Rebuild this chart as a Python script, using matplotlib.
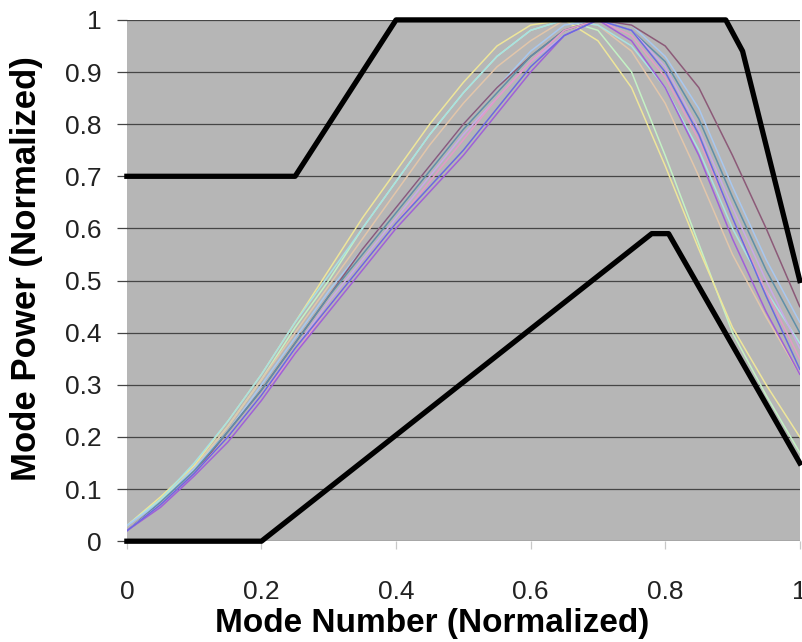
import numpy as np
import matplotlib
matplotlib.use("Agg")
import matplotlib.pyplot as plt

plt.rcParams['font.family'] = ['Liberation Sans', 'DejaVu Sans']

# mode number grid (normalized)
x = [0.0, 0.05, 0.1, 0.15, 0.2, 0.25, 0.3, 0.35, 0.4, 0.45, 0.5,
     0.55, 0.6, 0.65, 0.7, 0.75, 0.8, 0.85, 0.9, 0.95, 1.0]

# measured mode power curves (normalized)
blue = [0.02, 0.07, 0.13, 0.20, 0.28, 0.37, 0.45, 0.53, 0.61, 0.68, 0.75,
        0.83, 0.91, 0.97, 1.00, 0.98, 0.90, 0.78, 0.62, 0.47, 0.33]
purple = [0.02, 0.065, 0.125, 0.19, 0.27, 0.36, 0.44, 0.52, 0.60, 0.67, 0.74,
          0.82, 0.90, 0.97, 1.00, 0.96, 0.87, 0.74, 0.58, 0.44, 0.32]
pink = [0.02, 0.07, 0.13, 0.20, 0.28, 0.36, 0.45, 0.53, 0.61, 0.69, 0.77,
        0.85, 0.92, 0.98, 1.00, 0.97, 0.89, 0.77, 0.62, 0.48, 0.35]
teal = [0.02, 0.075, 0.135, 0.21, 0.29, 0.38, 0.47, 0.55, 0.63, 0.71, 0.79,
        0.86, 0.93, 0.98, 1.00, 0.98, 0.92, 0.81, 0.66, 0.52, 0.40]
lightblue = [0.03, 0.075, 0.14, 0.21, 0.30, 0.39, 0.48, 0.56, 0.64, 0.72, 0.80,
             0.87, 0.94, 0.99, 1.00, 0.99, 0.93, 0.83, 0.68, 0.54, 0.42]
maroon = [0.02, 0.07, 0.13, 0.21, 0.29, 0.38, 0.47, 0.56, 0.64, 0.72, 0.80,
          0.87, 0.93, 0.98, 1.00, 0.99, 0.95, 0.87, 0.74, 0.60, 0.45]
green = [0.03, 0.08, 0.14, 0.22, 0.31, 0.41, 0.50, 0.60, 0.69, 0.78, 0.86,
         0.93, 0.98, 1.00, 0.98, 0.90, 0.74, 0.57, 0.40, 0.28, 0.17]
yellow = [0.03, 0.085, 0.145, 0.23, 0.32, 0.42, 0.52, 0.62, 0.71, 0.80, 0.88,
          0.95, 0.99, 1.00, 0.96, 0.87, 0.72, 0.56, 0.41, 0.30, 0.20]
cyan = [0.03, 0.08, 0.15, 0.23, 0.32, 0.42, 0.51, 0.60, 0.69, 0.78, 0.86,
        0.93, 0.98, 1.00, 0.99, 0.95, 0.87, 0.75, 0.60, 0.48, 0.38]
tan = [0.02, 0.075, 0.14, 0.22, 0.31, 0.40, 0.49, 0.58, 0.67, 0.76, 0.84,
       0.91, 0.96, 1.00, 0.99, 0.94, 0.84, 0.70, 0.55, 0.43, 0.32]
lavender = [0.02, 0.07, 0.13, 0.20, 0.28, 0.37, 0.46, 0.54, 0.62, 0.70, 0.78,
            0.85, 0.92, 0.97, 1.00, 0.98, 0.91, 0.79, 0.64, 0.50, 0.37]

# mask limits
upper_x = [0.0, 0.25, 0.27, 0.4, 0.89, 0.915, 1.0]
upper_y = [0.7, 0.7, 0.74, 1.0, 1.0, 0.94, 0.5]
lower_x = [0.0, 0.2, 0.78, 0.805, 1.0]
lower_y = [0.0, 0.0, 0.59, 0.59, 0.15]

curves = [(green, '#c4f2c4'), (yellow, '#eee69a'), (tan, '#e2c6aa'),
          (cyan, '#a8e2e2'), (lightblue, '#a8c8f0'), (maroon, '#8c5a78'),
          (teal, '#5f8fa8'), (lavender, '#c8a8e8'), (pink, '#e39ac8'),
          (purple, '#a060d8'), (blue, '#6a6ae0')]

fig = plt.figure(figsize=(8.03, 6.42), dpi=100)
ax = fig.add_axes([0.158, 0.157, 0.838, 0.812])
ax.set_facecolor('#b6b6b6')

for ys, c in curves:
    ax.plot(x, ys, color=c, lw=1.1)

ax.plot(upper_x, upper_y, color='black', lw=3.8, clip_on=False, solid_joinstyle='round')
ax.plot(lower_x, lower_y, color='black', lw=3.8, clip_on=False, solid_joinstyle='round')

ax.set_xlim(0, 1)
ax.set_ylim(0, 1)
ax.set_yticks(np.arange(0, 1.01, 0.1))
ax.set_yticklabels(['0', '0.1', '0.2', '0.3', '0.4', '0.5', '0.6', '0.7', '0.8', '0.9', '1'])
ax.set_xticks([0, 0.2, 0.4, 0.6, 0.8, 1.0])
ax.set_xticklabels(['0', '0.2', '0.4', '0.6', '0.8', '1'])
ax.yaxis.grid(True, color='#454545', lw=0.9)
ax.set_axisbelow(True)
for s in ax.spines.values():
    s.set_visible(False)

ax.tick_params(axis='y', length=7, width=0.9, color='#454545', pad=11,
               labelsize=19, labelcolor='#222222')
ax.tick_params(axis='x', length=6, width=0.9, color='#c8c8c8', pad=22,
               labelsize=19, labelcolor='#222222')

ax.set_xlabel('Mode Number (Normalized)', fontsize=24, fontweight='bold')
ax.xaxis.set_label_coords(0.453, -0.128)
ax.set_ylabel('Mode Power (Normalized)', fontsize=25, fontweight='bold')
ax.yaxis.set_label_coords(-0.125, 0.523)

fig.savefig('out.png', dpi=100, facecolor='white')
